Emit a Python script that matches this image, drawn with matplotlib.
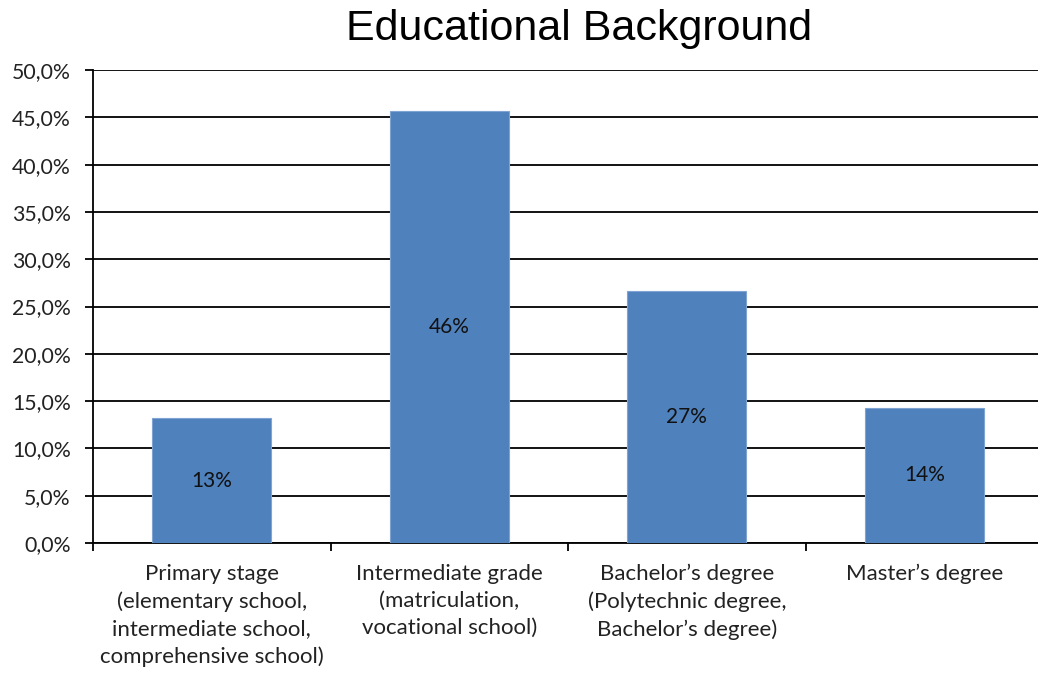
import matplotlib.pyplot as plt
from matplotlib.ticker import FuncFormatter, FixedLocator

categories = ["Primary stage\n(elementary school,\nintermediate school,\ncomprehensive school)",
              "Intermediate grade\n(matriculation,\nvocational school)",
              "Bachelor\u2019s degree\n(Polytechnic degree,\nBachelor\u2019s degree)",
              "Master\u2019s degree"]
shares = [13.2, 45.7, 26.6, 14.3]
bar_labels = ["13%", "46%", "27%", "14%"]
y_ticks = [0, 5, 10, 15, 20, 25, 30, 35, 40, 45, 50]

plt.rcParams['font.family'] = ['Lato', 'DejaVu Sans']

fig = plt.figure(figsize=(10.38, 6.75), dpi=100)
ax = fig.add_axes([93/1038, 1 - 543/675, 950/1038, 473/675])

x = range(len(categories))
bars = ax.bar(x, shares, width=0.5, color='#4F81BD', edgecolor='#7FA3D2', linewidth=0.8, zorder=3)
for b, lab in zip(bars, bar_labels):
    ax.text(b.get_x() + b.get_width()/2, b.get_height()/2, lab,
            ha='center', va='center', fontsize=15, color='#111111', zorder=4)

ax.set_xlim(-0.5, 3.5)
ax.set_ylim(0, 50)
ax.set_yticks(y_ticks)
ax.yaxis.set_major_formatter(FuncFormatter(lambda v, p: ("%.1f%%" % v).replace(".", ",")))
ax.yaxis.grid(True, color='black', linewidth=1.3, zorder=1)
ax.set_axisbelow(True)

ax.set_xticks(list(x))
ax.set_xticklabels(categories, fontsize=16, color='#222222', linespacing=1.45)
ax.tick_params(axis='x', which='major', length=0, pad=15)
ax.xaxis.set_minor_locator(FixedLocator([-0.5, 0.5, 1.5, 2.5, 3.5]))
ax.tick_params(axis='x', which='minor', length=6, width=1.3, direction='out')
ax.tick_params(axis='y', labelsize=15.3, labelcolor='#222222', length=6, width=1.3, pad=10)

for s in ['top', 'right']:
    ax.spines[s].set_visible(False)
for s in ['left', 'bottom']:
    ax.spines[s].set_linewidth(1.3)
    ax.spines[s].set_color('black')

fig.text(579/1038, 1 - 29/675, "Educational Background", ha='center', va='center',
         fontsize=31, color='black', family=['Liberation Sans', 'DejaVu Sans'])

fig.savefig("out.png", dpi=100)
